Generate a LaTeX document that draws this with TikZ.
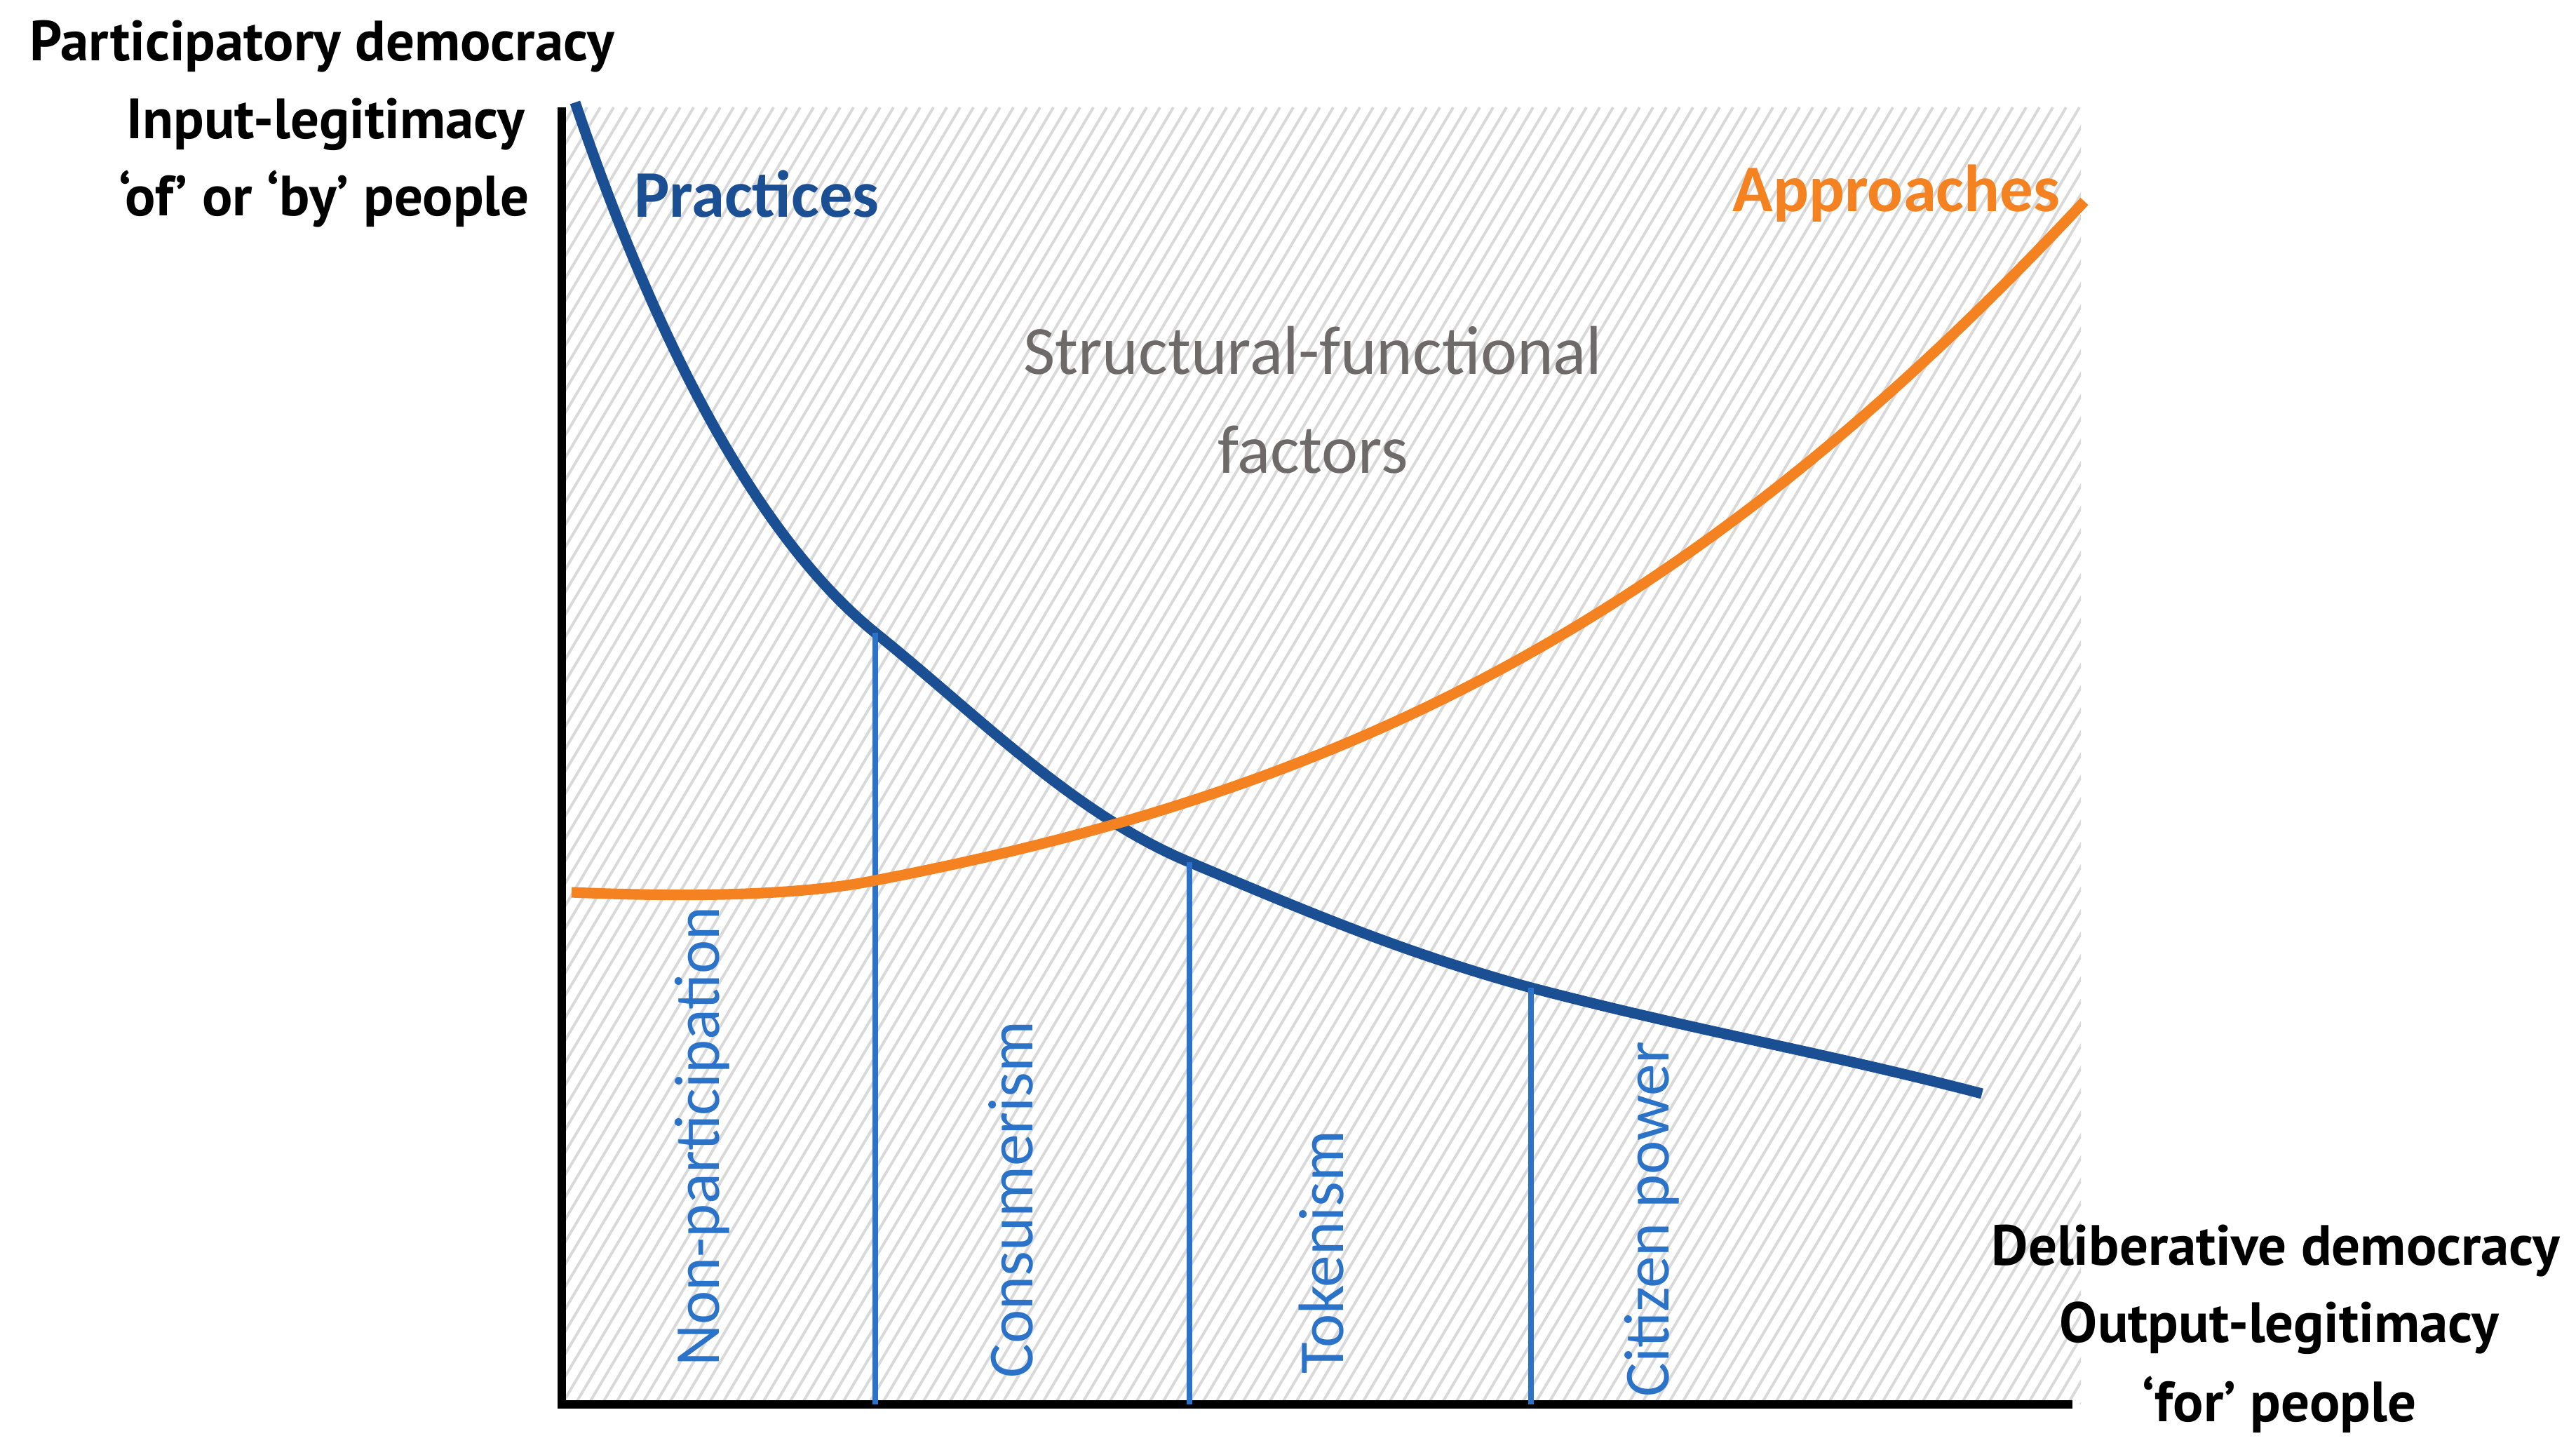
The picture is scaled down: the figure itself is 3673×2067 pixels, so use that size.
\documentclass[tikz,border=0pt]{standalone}
\usepackage{fontspec}
\setmainfont{Carlito}
\newfontfamily\titlefont{PT Sans}
\definecolor{pblue}{HTML}{1B4F93}
\definecolor{vblue}{HTML}{2A73C9}
\definecolor{orng}{HTML}{F58220}
\definecolor{sgray}{HTML}{6E6A6A}
\begin{document}
\begin{tikzpicture}[x=0.01cm,y=-0.01cm,
  ttl/.style={font=\titlefont\bfseries\fontsize{23}{28}\selectfont,inner sep=0pt,anchor=center},
  rot/.style={font=\fontsize{26}{30}\selectfont,text=vblue,rotate=90,inner sep=0pt},
  div/.style={vblue,line width=4.5pt}]
\useasboundingbox (0,0) rectangle (3673,2067);
\fill[white] (0,0) rectangle (3673,2067);
\begin{scope}
\clip (801,153) rectangle (2967,2002);
\foreach \i in {0,...,210}{
  \draw[black!15,line width=1.1pt] ({-700+\i*19},2002) -- ({-700+\i*19+1100},153);
}
\end{scope}
% axes
\coordinate (o) at (801,2002);
\coordinate (ytop) at (801,153);
\coordinate (xend) at (2955,2002);
\draw[line width=3.2pt] (ytop) -- (o) -- (xend);
% curve points
\coordinate (b0) at (820,146);
\coordinate (b1) at (1248,902);
\coordinate (b2) at (1696,1229);
\coordinate (b3) at (2183,1408);
\coordinate (b4) at (2826,1559);
\draw[pblue,line width=4.3pt] (b0) .. controls (960,560) and (1110,790) .. (b1)
  .. controls (1390,1016) and (1530,1160) .. (b2)
  .. controls (1860,1298) and (2000,1358) .. (b3)
  .. controls (2420,1470) and (2600,1500) .. (b4);
% dividers
\coordinate (d1) at (1248,2002);
\coordinate (d2) at (1696,2002);
\coordinate (d3) at (2183,2002);
\draw[vblue,line width=2.2pt] (b1) -- (d1) (b2) -- (d2) (b3) -- (d3);
% orange
\coordinate (o0) at (815,1272);
\coordinate (o1) at (1248,1255);
\coordinate (o2) at (2972,287);
\draw[orng,line width=4.3pt] (o0) .. controls (1000,1280) and (1150,1275) .. (o1)
  .. controls (1900,1130) and (2400,900) .. (o2);
% labels
\node[font=\bfseries\fontsize{27}{30}\selectfont,text=pblue,inner sep=0pt] (prac) at (1079,276) {Practices};
\node[font=\bfseries\fontsize{27}{30}\selectfont,text=orng,inner sep=0pt] (appr) at (2704,276) {Approaches};
\node[font=\fontsize{28}{38}\selectfont,text=sgray,align=center,inner sep=0pt] (sf) at (1872,570) {Structural-functional\\[2pt]factors};
\node[rot] (np) at (1001,1620) {Non-participation};
\node[rot] (cons) at (1441,1710) {Consumerism};
\node[rot] (tok) at (1884,1785) {Tokenism};
\node[rot] (cp) at (2355,1738) {Citizen power};
\node[ttl] (t1) at (459,66) {Participatory democracy};
\node[ttl] (t2) at (464,177) {Input-legitimacy};
\node[ttl] (t3) at (462,283) {‘of’ or ‘by’ people};
\node[ttl] (t4) at (3245,1783) {Deliberative democracy};
\node[ttl] (t5) at (3250,1893) {Output-legitimacy};
\node[ttl] (t6) at (3250,2002) {‘for’ people};
\end{tikzpicture}
\end{document}
